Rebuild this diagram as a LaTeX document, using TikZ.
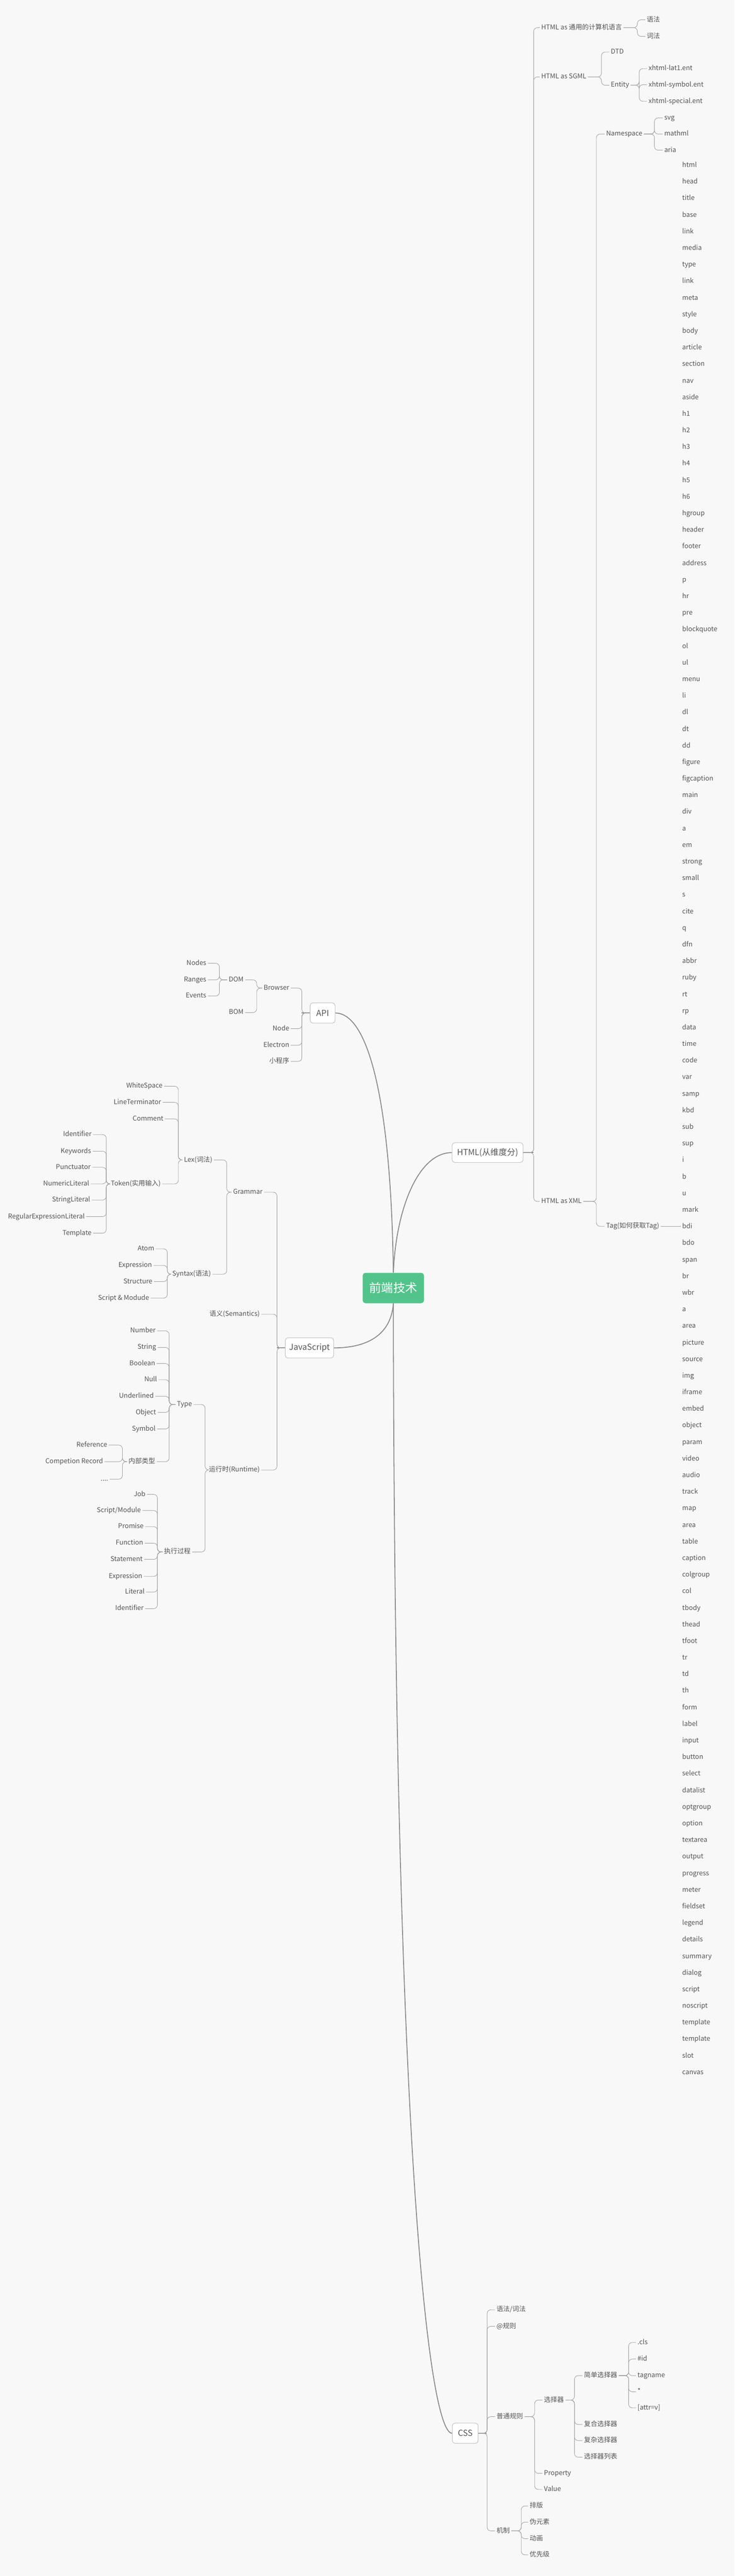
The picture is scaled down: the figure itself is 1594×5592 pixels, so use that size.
\documentclass[tikz,border=0pt]{standalone}
\usepackage{fontspec}
\setmainfont{Noto Sans CJK SC}
\definecolor{bg}{HTML}{F8F8F8}
\definecolor{txt}{HTML}{555555}
\definecolor{ln}{HTML}{A3A3A3}
\definecolor{ln2}{HTML}{8C8C8C}
\definecolor{rootc}{HTML}{52C48B}
\definecolor{boxb}{HTML}{C4C4C4}
\tikzset{
  lbl/.style={font=\fontsize{7.2}{8}\selectfont, text=txt, inner xsep=1.5pt, inner ysep=0pt, text height=5.4pt, text depth=1.4pt},
  lblR/.style={lbl, anchor=west},
  lblL/.style={lbl, anchor=east},
  boxn/.style={draw=boxb, fill=white, rounded corners=3pt, line width=0.6pt, font=\fontsize{9}{10}\selectfont, text=txt, inner sep=0pt},
  rootn/.style={fill=rootc, rounded corners=3pt, text=white, font=\fontsize{13}{14}\selectfont, inner sep=0pt, minimum width=66.5pt, minimum height=33pt},
  conn/.style={draw=ln, line width=0.5pt, rounded corners=4pt},
  mainc/.style={draw=ln2, line width=1pt},
  stub/.style={draw=ln2, line width=1pt}
}
\newcommand\brR[3]{\coordinate (bxtmp) at (#2,0);\foreach \ch in {#3}{\draw[conn] (#1.east) -- (#1.east -| bxtmp) |- (\ch.west);}}
\newcommand\brL[3]{\coordinate (bxtmp) at (#2,0);\foreach \ch in {#3}{\draw[conn] (#1.west) -- (#1.west -| bxtmp) |- (\ch.east);}}
\begin{document}
\begin{tikzpicture}[x=0.5pt,y=-0.5pt]
\fill[bg] (0,0) rectangle (1594,5592);
\useasboundingbox (0,0) rectangle (1594,5592);

% root and main boxes
\node[rootn] (root) at (853.5,2796) {前端技术};
\node[boxn, minimum width=77pt, minimum height=21.5pt] (html) at (1058,2502) {HTML(从维度分)};
\node[boxn, minimum width=27pt, minimum height=22pt] (api) at (700,2199) {API};
\node[boxn, minimum width=52.5pt, minimum height=22pt] (js) at (671.5,2926) {JavaScript};
\node[boxn, minimum width=28pt, minimum height=22pt] (css) at (1009.5,5282) {CSS};

\draw[mainc] (root.north) .. controls +(6,-143) and +(-71,0) .. (html.west);
\draw[mainc] (root.north) .. controls +(-5,-380) and +(70,0) .. (api.east);
\draw[mainc] (root.south) .. controls +(-5,70) and +(70,0) .. (js.east);
\draw[mainc] (root.south) .. controls +(2,1800) and +(-52,0) .. (css.west);

% ---------------- HTML ----------------
\node[lblR] (h1) at (1171,60) {HTML as 通用的计算机语言};
\node[lblR] (yufa) at (1400,43) {语法};
\node[lblR] (cifa) at (1400,79) {词法};
\node[lblR] (h2) at (1171,167) {HTML as SGML};
\node[lblR] (dtd) at (1322,113) {DTD};
\node[lblR] (ent) at (1322,185) {Entity};
\node[lblR] (e1) at (1404,149) {xhtml-lat1.ent};
\node[lblR] (e2) at (1404,184) {xhtml-symbol.ent};
\node[lblR] (e3) at (1404,220) {xhtml-special.ent};
\node[lblR] (h3) at (1171,2608) {HTML as XML};
\node[lblR] (ns) at (1312,291) {Namespace};
\node[lblR] (svg) at (1438,256) {svg};
\node[lblR] (mathml) at (1438,291) {mathml};
\node[lblR] (aria) at (1438,326) {aria};
\node[lblR] (tag) at (1312,2662) {Tag(如何获取Tag)};

\foreach \t [count=\i] in {html,head,title,base,link,media,type,link,meta,style,body,article,section,nav,aside,h1,h2,h3,h4,h5,h6,hgroup,header,footer,address,p,hr,pre,blockquote,ol,ul,menu,li,dl,dt,dd,figure,figcaption,main,div,a,em,strong,small,s,cite,q,dfn,abbr,ruby,rt,rp,data,time,code,var,samp,kbd,sub,sup,i,b,u,mark,bdi,bdo,span,br,wbr,a,area,picture,source,img,iframe,embed,object,param,video,audio,track,map,area,table,caption,colgroup,col,tbody,thead,tfoot,tr,td,th,form,label,input,button,select,datalist,optgroup,option,textarea,output,progress,meter,fieldset,legend,details,summary,dialog,script,noscript,template,template,slot,canvas}{
  \node[lblR] (t\i) at (1477,{359+36*(\i-1)}) {\t};
}

\draw[stub] (html.east) -- ++(22,0);
\brR{html}{1158}{h1,h2,h3}
\brR{h1}{1383}{yufa,cifa}
\brR{h2}{1305}{dtd,ent}
\brR{ent}{1387}{e1,e2,e3}
\brR{h3}{1294}{ns,tag}
\brR{ns}{1420}{svg,mathml,aria}
\draw[conn] (tag.east) -- (tag.east -| t65.west);

% ---------------- API ----------------
\node[lblL] (browser) at (631,2145) {Browser};
\node[lblL] (nodejs) at (631,2233) {Node};
\node[lblL] (electron) at (631,2269) {Electron};
\node[lblL] (mini) at (631,2304) {小程序};
\node[lblL] (dom) at (532,2127) {DOM};
\node[lblL] (bom) at (532,2198) {BOM};
\node[lblL] (nodes) at (451,2091) {Nodes};
\node[lblL] (ranges) at (451,2127) {Ranges};
\node[lblL] (events) at (451,2162) {Events};

\draw[stub] (api.west) -- ++(-18,0);
\brL{api}{655}{browser,nodejs,electron,mini}
\brL{browser}{557}{dom,bom}
\brL{dom}{476}{nodes,ranges,events}

% ---------------- JavaScript ----------------
\node[lblL] (grammar) at (573,2588) {Grammar};
\node[lblL] (sem) at (567,2853) {语义(Semantics)};
\node[lblL] (runt) at (567,3191) {运行时(Runtime)};
\node[lblL] (lex) at (464,2518) {Lex(词法)};
\node[lblL] (syn) at (461,2766) {Syntax(语法)};
\node[lblL] (ws) at (356,2358) {WhiteSpace};
\node[lblL] (lt) at (353,2393) {LineTerminator};
\node[lblL] (cm) at (358,2429) {Comment};
\node[lblL] (tok) at (352,2570) {Token(实用输入)};
\node[lblL] (k1) at (202,2463) {Identifier};
\node[lblL] (k2) at (201,2499) {Keywords};
\node[lblL] (k3) at (200,2534) {Punctuator};
\node[lblL] (k4) at (197,2570) {NumericLiteral};
\node[lblL] (k5) at (199,2605) {StringLiteral};
\node[lblL] (k6) at (187,2641) {RegularExpressionLiteral};
\node[lblL] (k7) at (202,2677) {Template};
\node[lblL] (s1) at (338,2711) {Atom};
\node[lblL] (s2) at (333,2747) {Expression};
\node[lblL] (s3) at (334,2782) {Structure};
\node[lblL] (s4) at (327,2818) {Script \& Modude};
\node[lblL] (type) at (420,3049) {Type};
\node[lblL] (exe) at (417,3369) {执行过程};
\node[lblL] (y1) at (341,2889) {Number};
\node[lblL] (y2) at (342,2925) {String};
\node[lblL] (y3) at (340,2960) {Boolean};
\node[lblL] (y4) at (344,2995) {Null};
\node[lblL] (y5) at (337,3031) {Underlined};
\node[lblL] (y6) at (342,3066) {Object};
\node[lblL] (y7) at (341,3102) {Symbol};
\node[lblL] (inner) at (340,3173) {内部类型};
\node[lblL] (i1) at (236,3137) {Reference};
\node[lblL] (i2) at (227,3173) {Competion Record};
\node[lblL] (i3) at (238,3211) {....};
\node[lblL] (x1) at (319,3244) {Job};
\node[lblL] (x2) at (309,3279) {Script/Module};
\node[lblL] (x3) at (315,3314) {Promise};
\node[lblL] (x4) at (314,3350) {Function};
\node[lblL] (x5) at (313,3385) {Statement};
\node[lblL] (x6) at (312,3422) {Expression};
\node[lblL] (x7) at (317,3456) {Literal};
\node[lblL] (x8) at (315,3492) {Identifier};

\draw[stub] (js.west) -- ++(-18,0);
\brL{js}{601}{grammar,sem,runt}
\brL{grammar}{492}{lex,syn}
\brL{lex}{387}{ws,lt,cm,tok}
\brL{tok}{230.5}{k1,k2,k3,k4,k5,k6,k7}
\brL{syn}{363}{s1,s2,s3,s4}
\brL{runt}{445}{type,exe}
\brL{type}{367}{y1,y2,y3,y4,y5,y6,y7,inner}
\brL{inner}{265.6}{i1,i2,i3}
\brL{exe}{341.6}{x1,x2,x3,x4,x5,x6,x7,x8}

% ---------------- CSS ----------------
\node[lblR] (c1) at (1074,5014) {语法/词法};
\node[lblR] (c2) at (1074,5050) {@规则};
\node[lblR] (c3) at (1074,5246) {普通规则};
\node[lblR] (c4) at (1074,5494) {机制};
\node[lblR] (sel) at (1177,5210) {选择器};
\node[lblR] (prop) at (1177,5369) {Property};
\node[lblR] (val) at (1177,5404) {Value};
\node[lblR] (ss) at (1264,5157) {简单选择器};
\node[lblR] (fs) at (1264,5263) {复合选择器};
\node[lblR] (cs) at (1264,5298) {复杂选择器};
\node[lblR] (ls) at (1264,5334) {选择器列表};
\node[lblR] (q1) at (1380,5085) {.cls};
\node[lblR] (q2) at (1380,5121) {\#id};
\node[lblR] (q3) at (1380,5157) {tagname};
\node[lblR] (q4) at (1380,5192) {*};
\node[lblR] (q5) at (1380,5227) {[attr=v]};
\node[lblR] (m1) at (1146,5440) {排版};
\node[lblR] (m2) at (1146,5475) {伪元素};
\node[lblR] (m3) at (1146,5511) {动画};
\node[lblR] (m4) at (1146,5546) {优先级};

\draw[stub] (css.east) -- ++(18,0);
\brR{css}{1057}{c1,c2,c3,c4}
\brR{c3}{1160}{sel,prop,val}
\brR{sel}{1246.5}{ss,fs,cs,ls}
\brR{ss}{1364}{q1,q2,q3,q4,q5}
\brR{c4}{1131}{m1,m2,m3,m4}
\end{tikzpicture}
\end{document}
